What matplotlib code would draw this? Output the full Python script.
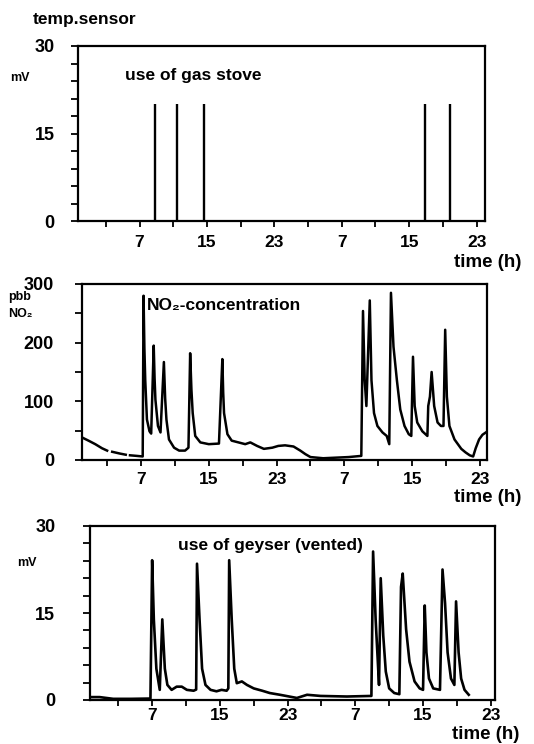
import numpy as np
import matplotlib
matplotlib.use("Agg")
import matplotlib.pyplot as plt

plt.rcParams['font.family'] = ['Liberation Sans', 'DejaVu Sans']
plt.rcParams['font.weight'] = 'bold'

W, H = 534, 744

# --- data (hours from midnight of day 1) ---
stove_t = [8.8, 11.5, 14.6, 40.9, 43.8]
stove_mv = [20, 20, 20, 20, 20]

no2_t = [0.1, 0.8, 1.6, 2.4, 3.0, np.nan, 3.6, 4.5, 5.2, np.nan, 5.7, 6.5, 7.2,
         7.3, 7.4, 7.5, 7.7, 8.0, 8.2,
         8.5, 8.6, 8.7, 9.0, 9.3,
         9.7, 9.85, 10.0, 10.3, 10.9, 11.5, 12.2, 12.6,
         12.8, 12.95, 13.1, 13.4, 14.0, 15.0, 16.2,
         16.6, 16.7, 16.8, 17.2, 17.7, 18.5, 19.3, 19.9, 20.7, 21.5, 22.5, 23.2, 24.0,
         25.0, 25.8, 26.4, 27.0, 28.5, 30.0, 31.5, 33.0,
         33.2, 33.4, 33.6,
         34.0, 34.2, 34.5, 34.9, 35.5, 36.0, 36.3,
         36.5, 36.8, 37.2, 37.6, 38.1, 38.6, 38.9,
         39.1, 39.3, 39.6, 40.2, 40.8,
         40.9, 41.1, 41.3, 41.6, 42.0, 42.4, 42.7,
         42.9, 43.1, 43.4, 44.0, 44.8, 45.3, 45.8, 46.2, 46.5, 46.9, 47.3, 47.8]
no2_ppb = [38, 33, 27, 20, 16, np.nan, 14, 11, 9, np.nan, 8, 7, 6,
           280, 190, 136, 69, 49, 45,
           195, 140, 103, 58, 47,
           167, 105, 69, 35, 21, 16, 16, 21,
           182, 120, 80, 41, 30, 27, 28,
           172, 115, 80, 44, 33, 30, 27, 30, 24, 19, 21, 24, 25,
           23, 16, 10, 5, 3, 4, 5, 7,
           254, 136, 92,
           272, 136, 80, 58, 47, 41, 27,
           285, 193, 136, 86, 58, 44, 41,
           176, 92, 64, 49, 41,
           92, 108, 150, 92, 64, 58, 58,
           222, 108, 58, 35, 19, 13, 8, 6, 20, 35, 43, 48]

gey_t = [-0.35, 0.8, 2.4, 4.5, 6.8,
         7.0, 7.2, 7.5, 7.9,
         8.2, 8.5, 8.8, 9.3, 9.9, 10.5, 11.1, 11.9, 12.2,
         12.3, 12.6, 12.9, 13.3, 13.9, 14.6, 15.2, 15.8, 16.0,
         16.1, 16.4, 16.7, 17.0, 17.6, 18.2, 19.0, 20.0, 20.9, 22.1, 24.1, 25.3,
         26.9, 30.0, 32.9,
         33.1, 33.4, 33.7, 33.8,
         34.0, 34.3, 34.6, 35.0, 35.6, 36.2,
         36.4, 36.6, 37.0, 37.4, 38.0, 38.6, 39.0,
         39.2, 39.4, 39.7, 40.2, 41.0,
         41.3, 41.6, 41.9, 42.3, 42.7,
         42.9, 43.2, 43.5, 43.9, 44.4]
gey_mv = [0.5, 0.5, 0.2, 0.2, 0.25,
          24.1, 13.9, 5.4, 1.75,
          13.9, 5.4, 2.6, 1.75, 2.3, 2.3, 1.75, 1.6, 1.8,
          23.5, 13.9, 5.4, 2.6, 1.75, 1.5, 1.75, 1.6, 2.0,
          24.1, 13.9, 5.4, 2.9, 3.2, 2.6, 2.0, 1.6, 1.2, 0.9, 0.35, 0.9,
          0.7, 0.6, 0.7,
          25.6, 13.9, 5.4, 2.6,
          21.0, 11.1, 4.9, 2.0, 1.2, 1.0,
          19.5, 21.8, 12.2, 6.6, 3.2, 2.0, 1.75,
          16.3, 8.2, 3.7, 2.0, 1.75,
          22.5, 16.7, 8.2, 3.7, 2.6,
          17.0, 8.2, 3.7, 1.75, 0.9]

major_x = [7, 15, 23, 31, 39, 47]
major_lbl = ['7', '15', '23', '7', '15', '23']
minor_x = [3, 11, 19, 27, 35, 43]


def px_axes(l, t, r, b):
    return fig.add_axes([l / W, 1 - b / H, (r - l) / W, (b - t) / H])


def ftext(x, y, s, **kw):
    fig.text(x / W, 1 - y / H, s, va='baseline', ha='left', **kw)


def style(ax, xlim, ylim, yticks, yminor, ypad, xpad):
    ax.set_xlim(*xlim)
    ax.set_ylim(*ylim)
    ax.set_xticks(major_x)
    ax.set_xticklabels(major_lbl)
    ax.set_xticks(minor_x, minor=True)
    ax.set_yticks(yticks)
    ax.set_yticks(yminor, minor=True)
    for s in ax.spines.values():
        s.set_linewidth(1.6)
    ax.tick_params(axis='y', which='both', direction='out', length=5, width=1.3,
                   labelsize=13, pad=ypad)
    ax.tick_params(axis='x', which='both', direction='out', length=4, width=1.3,
                   labelsize=12.5, pad=xpad)


fig = plt.figure(figsize=(W / 100, H / 100), dpi=100)

# panel 1: temperature sensor
ax1 = px_axes(78, 46, 485, 221)
ax1.vlines(stove_t, 0, stove_mv, color='black', lw=1.7)
style(ax1, (-0.3, 48), (0, 30), [0, 15, 30], np.arange(3, 30, 3), 12, 6)
ftext(33, 24, 'temp.sensor', fontsize=12.5)
ftext(10, 81, 'mV', fontsize=9)
ftext(125, 80, 'use of gas stove', fontsize=12.5)
ftext(454, 267, 'time (h)', fontsize=13.5)

# panel 2: NO2 concentration
ax2 = px_axes(81.7, 284, 486.7, 460)
ax2.plot(no2_t, no2_ppb, color='black', lw=1.8)
style(ax2, (0, 47.8), (0, 300), [0, 100, 200, 300], [50, 150, 250], 15, 5)
ftext(8, 300, 'pbb', fontsize=9)
ftext(8, 317, 'NO₂', fontsize=9)
ftext(147, 310, 'NO₂-concentration', fontsize=12.5)
ftext(454, 502, 'time (h)', fontsize=13.5)

# panel 3: geyser
ax3 = px_axes(90, 526, 495, 700)
ax3.plot(gey_t, gey_mv, color='black', lw=1.9)
style(ax3, (-0.34, 47.5), (0, 30), [0, 15, 30], np.arange(3, 30, 3), 20, 2)
ftext(17, 566, 'mV', fontsize=9)
ftext(178, 550, 'use of geyser (vented)', fontsize=12.5)
ftext(452, 739, 'time (h)', fontsize=13.5)

fig.savefig('out.png', dpi=100)
